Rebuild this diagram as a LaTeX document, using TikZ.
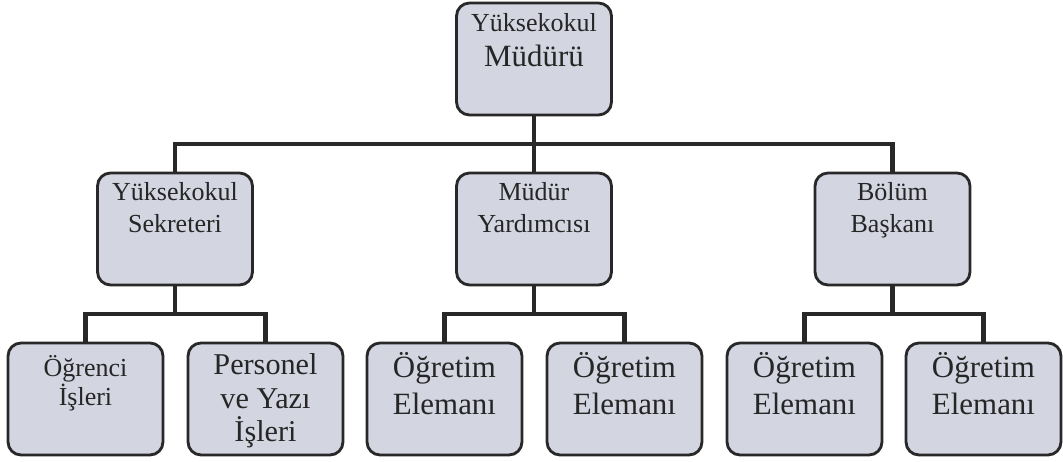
\documentclass[tikz,border=0pt]{standalone}
\usepackage{fontspec}
\setmainfont{Liberation Serif}
\usetikzlibrary{positioning}
\definecolor{boxfill}{RGB}{211,213,225}
\definecolor{boxline}{RGB}{40,40,40}
\begin{document}
\begin{tikzpicture}[
  x=0.02cm, y=-0.02cm,
  box/.style={draw=boxline, fill=boxfill, line width=1.6pt, rounded corners=0.26cm, minimum width=3.1cm, minimum height=2.24cm, inner sep=0pt},
  txt/.style={align=center, inner sep=0pt, text=black!85, font=\fontsize{14.8}{17.9}\selectfont},
  bigtxt/.style={align=center, inner sep=0pt, text=black!85, font=\fontsize{17.6}{21}\selectfont},
  link/.style={draw=boxline, line width=2.8pt}
]
\useasboundingbox (0,0) rectangle (1063,462);

% kutular
\node[box] (mud) at (534,59)  {};
\node[box] (sek) at (175,229) {};
\node[box] (yrd) at (534,229) {};
\node[box] (bol) at (892.5,229) {};
\node[box] (ogr) at (85.5,399)  {};
\node[box] (per) at (265.5,399) {};
\node[box] (oe1) at (444.5,399) {};
\node[box] (oe2) at (624.5,399) {};
\node[box] (oe3) at (804.5,399) {};
\node[box] (oe4) at (983.5,399) {};

% yazilar
\node[txt, below=0.24cm of mud.north] (mud-t) {Yüksekokul\\[0.06cm]{\fontsize{17.6}{21}\selectfont Müdürü}};
\node[txt, below=0.22cm of sek.north] (sek-t) {Yüksekokul\\Sekreteri};
\node[txt, below=0.22cm of yrd.north] (yrd-t) {Müdür\\Yardımcısı};
\node[txt, below=0.22cm of bol.north] (bol-t) {Bölüm\\Başkanı};
\node[txt, below=0.26cm of ogr.north, font=\fontsize{14.8}{16.5}\selectfont] (ogr-t) {Öğrenci\\İşleri};
\node[bigtxt, below=0.24cm of per.north, font=\fontsize{17.2}{19}\selectfont] (per-t) {Personel\\ve Yazı\\İşleri};
\node[bigtxt, below=0.22cm of oe1.north] (oe1-t) {Öğretim\\Elemanı};
\node[bigtxt, below=0.22cm of oe2.north] (oe2-t) {Öğretim\\Elemanı};
\node[bigtxt, below=0.22cm of oe3.north] (oe3-t) {Öğretim\\Elemanı};
\node[bigtxt, below=0.22cm of oe4.north] (oe4-t) {Öğretim\\Elemanı};

% baglantilar
\coordinate (bar0) at (534,144);
\coordinate (bar1) at (175,314);
\coordinate (bar2) at (534,314);
\coordinate (bar3) at (892.5,314);

\draw[link] (mud.south) -- (bar0) -| (sek.north);
\draw[link] (bar0) -| (bol.north);
\draw[link] (bar0) -- (yrd.north);

\draw[link] (sek.south) -- (bar1) -| (ogr.north);
\draw[link] (bar1) -| (per.north);
\draw[link] (yrd.south) -- (bar2) -| (oe1.north);
\draw[link] (bar2) -| (oe2.north);
\draw[link] (bol.south) -- (bar3) -| (oe3.north);
\draw[link] (bar3) -| (oe4.north);
\end{tikzpicture}
\end{document}
